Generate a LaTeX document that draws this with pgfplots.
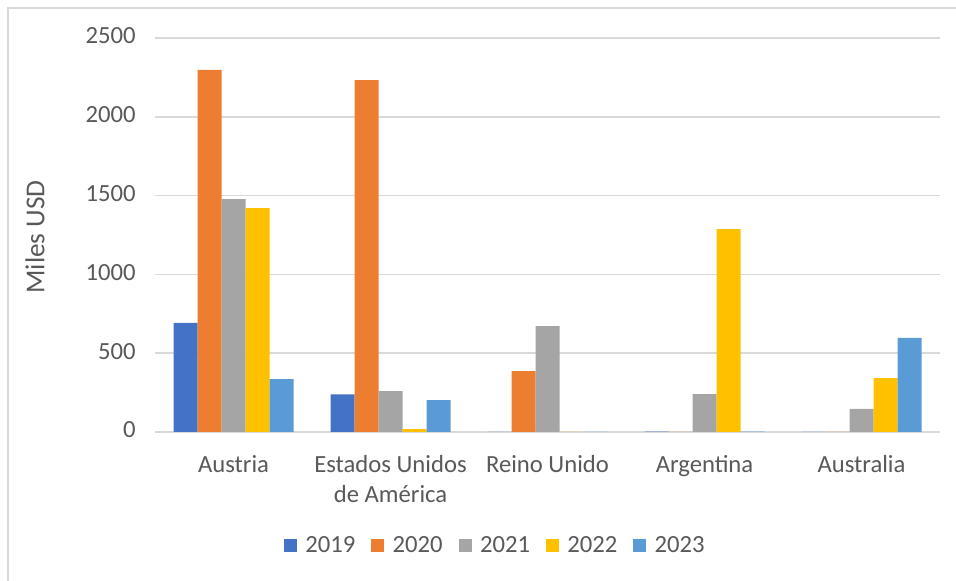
\documentclass[border=0pt]{standalone}
\usepackage{pgfplots}
\pgfplotsset{compat=1.18}
\usepackage{fontspec}
\setmainfont{Carlito}
\definecolor{c19}{HTML}{4472C4}
\definecolor{c20}{HTML}{ED7D31}
\definecolor{c21}{HTML}{A5A5A5}
\definecolor{c22}{HTML}{FFC000}
\definecolor{c23}{HTML}{5B9BD5}
\definecolor{gridc}{HTML}{D9D9D9}
\definecolor{txt}{HTML}{595959}
\begin{document}
\begin{tikzpicture}
\useasboundingbox (0,0) rectangle (717pt,435.75pt);
\draw[gridc, line width=1.1pt] (6pt,0pt) -- (6pt,429.75pt) -- (717pt,429.75pt);
\begin{axis}[
  at={(116.25pt,111.75pt)}, anchor=south west,
  scale only axis, width=588.75pt, height=295.5pt,
  ybar, bar width=18pt,
  xmin=-0.5, xmax=4.5, ymin=0, ymax=2500,
  ytick={0,500,...,2500},
  xtick={0,1,2,3,4},
  xticklabels={Austria,{Estados Unidos\\de América},Reino Unido,Argentina,Australia},
  typeset ticklabels with strut,
  xticklabel style={align=center, yshift=-7.5pt, text=txt},
  yticklabel style={xshift=-11pt, text=txt},
  /pgf/number format/assume math mode=true,
  /pgf/number format/1000 sep={},
  font=\fontsize{18.5pt}{22pt}\selectfont,
  tick style={draw=none},
  axis line style={draw=none},
  ymajorgrids, grid style={gridc, line width=1.1pt},
  ylabel={Miles USD},
  ylabel style={at={(axis description cs:-0.153,0.495)}, anchor=center, text=txt,
    font=\fontsize{20.5pt}{24pt}\selectfont},
  legend columns=5,
  legend style={at={(axis description cs:0.434,-0.289)}, anchor=center, draw=none, fill=none,
    text=txt, font=\fontsize{18.5pt}{22pt}\selectfont,
    /tikz/every even column/.append style={column sep=10pt}},
  legend image code/.code={\fill[#1] (0pt,-4.9pt) rectangle (9.75pt,4.85pt); \path (14pt,0pt);},
]
\addplot[fill=c19, draw=none, bar shift=-36pt] coordinates {(0,692) (1,238) (2,0) (3,3) (4,0)};
\addplot[fill=c20, draw=none, bar shift=-18pt] coordinates {(0,2297) (1,2233) (2,387) (3,0) (4,0)};
\addplot[fill=c21, draw=none, bar shift=0pt] coordinates {(0,1478) (1,260) (2,672) (3,241) (4,146)};
\addplot[fill=c22, draw=none, bar shift=18pt] coordinates {(0,1421) (1,19) (2,0) (3,1288) (4,342)};
\addplot[fill=c23, draw=none, bar shift=36pt] coordinates {(0,336) (1,202) (2,0) (3,3) (4,597)};
\legend{2019,2020,2021,2022,2023}
\end{axis}
\end{tikzpicture}
\end{document}
